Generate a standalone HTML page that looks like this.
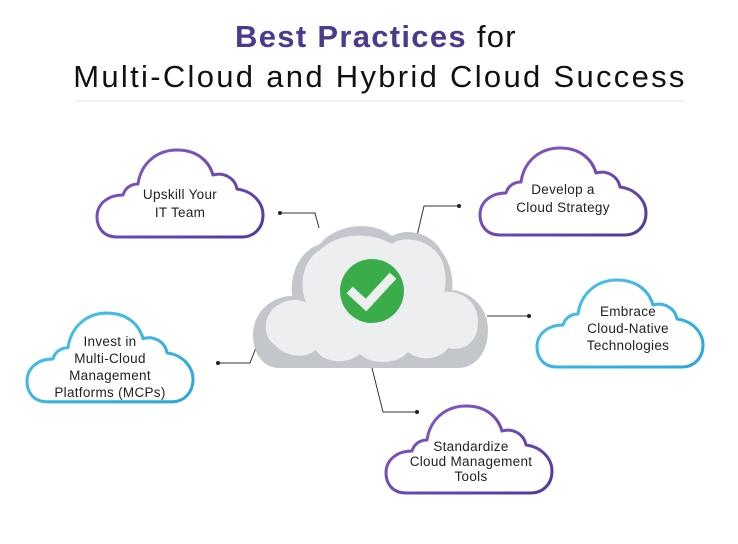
<!DOCTYPE html>
<html><head><meta charset="utf-8"><style>
html,body{margin:0;padding:0;background:#fff;}
body{width:738px;height:544px;overflow:hidden;position:relative;font-family:"Liberation Sans",sans-serif;}
svg{position:absolute;left:0;top:0;}
</style></head><body>
<svg width="738" height="544" viewBox="0 0 738 544" xmlns="http://www.w3.org/2000/svg">
<defs>
<linearGradient id="pg" x1="0" y1="0" x2="1" y2="1"><stop offset="0" stop-color="#8a5cc6"/><stop offset="1" stop-color="#4f3a9e"/></linearGradient>
<linearGradient id="bg" x1="0" y1="0" x2="1" y2="1"><stop offset="0" stop-color="#4cc3ea"/><stop offset="1" stop-color="#2aa6dc"/></linearGradient>
<path id="cl" d="M20,90 C6,90 0,80 0,70 C0,56 12,48 26,48 C28,41 34,37 41,37 C44,16 60,3 80,3 C100,3 112,14 116,28 C127,25 138,31 140,42 C156,44 166,56 166,68 C166,82 156,90 145,90 Z"/>
</defs>
<text x="376" y="47" text-anchor="middle" font-size="31" letter-spacing="1.3" fill="#111"><tspan fill="#4a3b8f" font-weight="bold">Best Practices</tspan> for</text>
<text x="380" y="87" text-anchor="middle" font-size="31" letter-spacing="2.3" fill="#111">Multi-Cloud and Hybrid Cloud Success</text>
<line x1="75" y1="101" x2="685" y2="101" stroke="#eee" stroke-width="1.5"/>

<g stroke="#333" stroke-width="1" fill="none">
<polyline points="280,213 315,213 319,228"/>
<polyline points="459,206 424,206 416,240"/>
<polyline points="487,316 529,316"/>
<polyline points="218,363 250,363 257,345"/>
<polyline points="372,368 383,412 417,412"/>
</g>
<g fill="#222"><circle cx="280" cy="213" r="2"/><circle cx="459" cy="206" r="2"/><circle cx="529" cy="316" r="2"/><circle cx="218" cy="363" r="2"/><circle cx="417" cy="412" r="2"/></g>

<g>
<path fill="#c3c6ca" d="M280,368 C262,368 253,352 253,335 C253,312 272,296 292,296 C290,275 298,252 320,244 C336,224 372,220 392,236 C405,228 432,232 442,252 C450,262 454,280 452,290 C472,292 488,308 488,330 C488,352 476,368 458,368 Z"/>
<path fill="#eceeef" d="M275,345 C262,338 262,312 280,304 C290,298 300,300 306,302 C300,290 300,262 320,250 C338,232 372,232 392,244 C402,236 425,238 438,254 C446,264 447,282 444,292 C462,290 478,302 478,322 C478,342 464,352 448,348 C440,360 420,362 408,352 C398,364 372,366 360,354 C346,366 322,362 316,350 C304,360 284,356 275,345 Z"/>
<circle cx="372" cy="291" r="32" fill="#3aad4a"/>
<polyline points="353,293 366,305 390,279" fill="none" stroke="#eceeef" stroke-width="9" stroke-linecap="square"/>
</g>

<g fill="#fff" stroke-width="3" stroke-linejoin="round">
<use href="#cl" transform="translate(97,147)" stroke="url(#pg)"/>
<use href="#cl" transform="translate(480,145)" stroke="url(#pg)"/>
<use href="#cl" transform="translate(537,277)" stroke="url(#bg)"/>
<use href="#cl" transform="translate(27,310) scale(1,1.02)" stroke="url(#bg)"/>
<use href="#cl" transform="translate(386,403)" stroke="url(#pg)"/>
</g>

<g font-size="13.5" fill="#222" text-anchor="middle" letter-spacing="0.3">
<text x="180" y="199">Upskill Your</text><text x="180" y="217">IT Team</text>
<text x="563" y="194">Develop a</text><text x="563" y="212">Cloud Strategy</text>
<text x="628" y="316">Embrace</text><text x="628" y="333">Cloud-Native</text><text x="628" y="350">Technologies</text>
<text x="110" y="346">Invest in</text><text x="110" y="363">Multi-Cloud</text><text x="110" y="380">Management</text><text x="110" y="397">Platforms (MCPs)</text>
<text x="471" y="451">Standardize</text><text x="471" y="466">Cloud Management</text><text x="471" y="481">Tools</text>
</g>
</svg>
</body></html>
